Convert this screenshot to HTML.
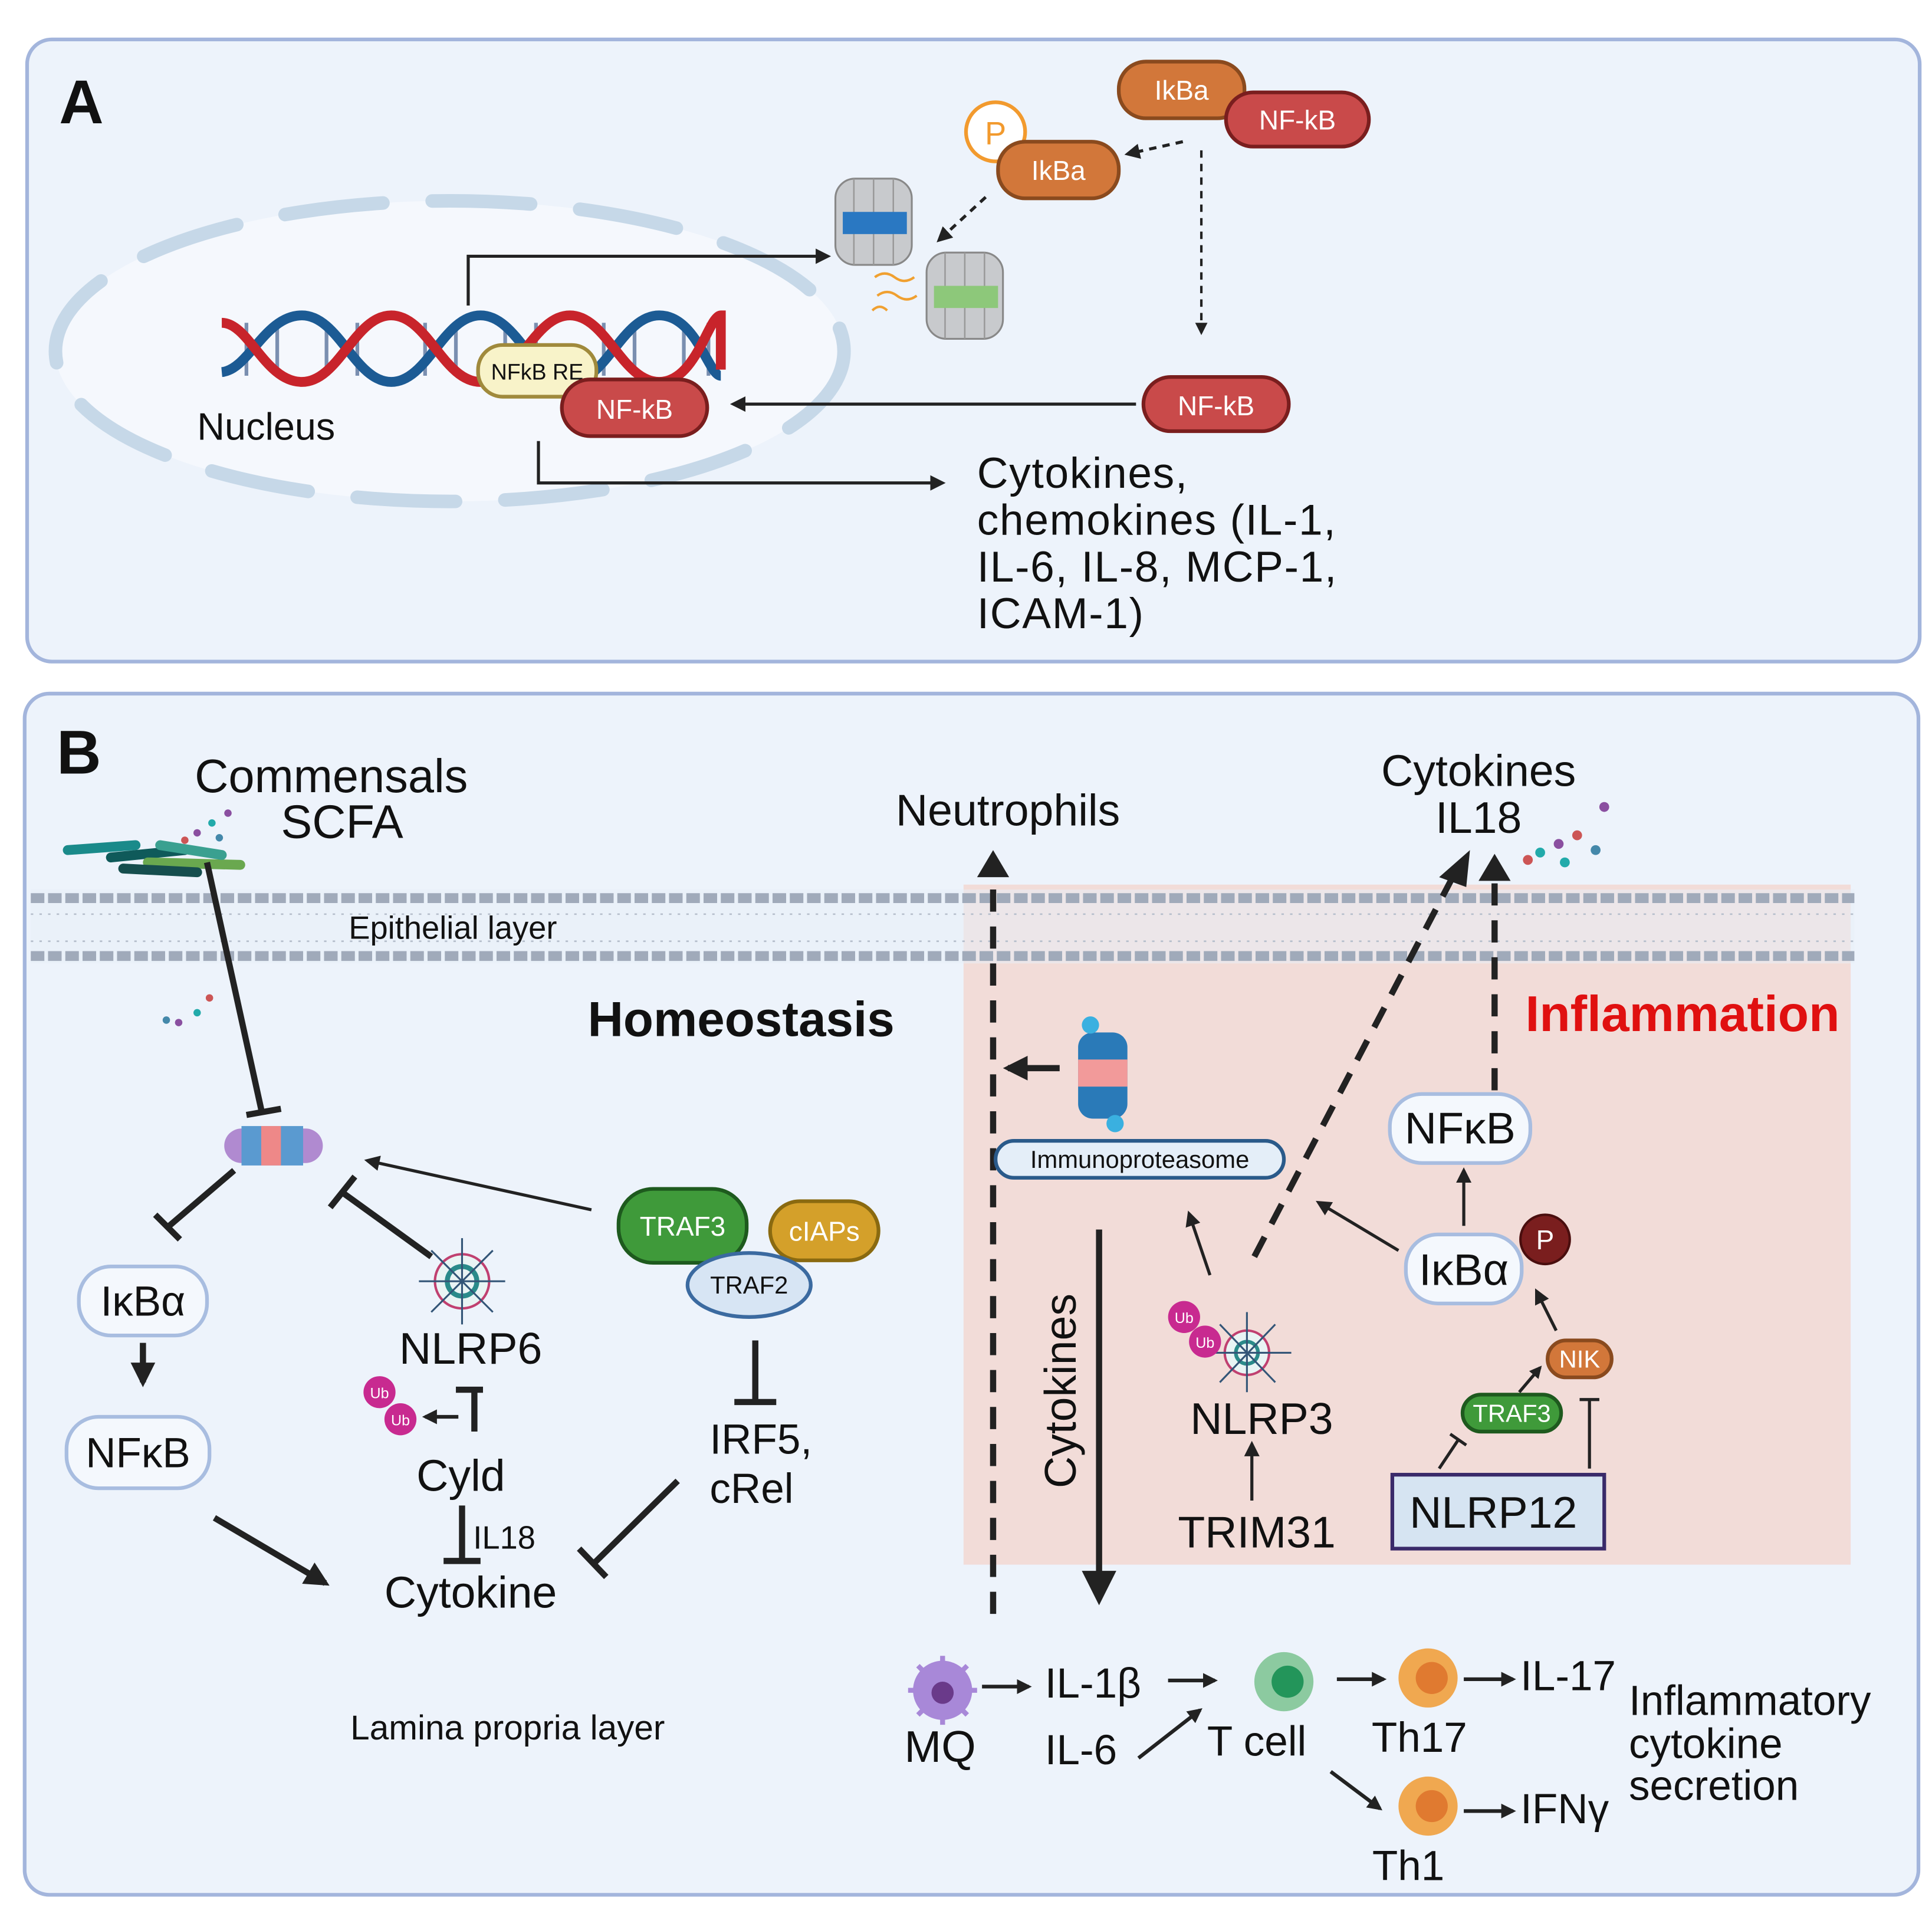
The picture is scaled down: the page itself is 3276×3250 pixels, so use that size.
<!DOCTYPE html>
<html><head><meta charset="utf-8"><style>
html,body{margin:0;padding:0;background:#fff}
svg{display:block}
text{font-family:"Liberation Sans",sans-serif;fill:#111}
</style></head><body>
<svg width="3276" height="3250" viewBox="0 0 1568 1556" preserveAspectRatio="none" xmlns="http://www.w3.org/2000/svg">
<defs>
<marker id="ah" viewBox="0 0 10 10" refX="8" refY="5" markerWidth="5" markerHeight="5" orient="auto"><path d="M0,0L10,5L0,10z" fill="#222"/></marker>
<marker id="ahs" viewBox="0 0 10 10" refX="8" refY="5" markerWidth="4" markerHeight="4" orient="auto"><path d="M0,0L10,5L0,10z" fill="#222"/></marker>
</defs>
<rect width="1568" height="1556" fill="#fff"/>
<!-- Panel A -->
<rect x="22" y="32" width="1536" height="505" rx="20" fill="#edf3fb" stroke="#a3b5dc" stroke-width="3"/>
<text x="48" y="100" font-size="50" font-weight="bold">A</text>
<ellipse cx="365" cy="285" rx="320" ry="122" fill="#f5f8fd" stroke="#c6d8e8" stroke-width="11" stroke-dasharray="80,40" stroke-linecap="round"/>
<!-- DNA -->
<g stroke="#7a8fb0" stroke-width="3">
<line x1="200" y1="262" x2="200" y2="305"/><line x1="225" y1="262" x2="225" y2="305"/><line x1="265" y1="262" x2="265" y2="305"/><line x1="290" y1="262" x2="290" y2="305"/><line x1="345" y1="262" x2="345" y2="305"/><line x1="370" y1="262" x2="370" y2="305"/><line x1="410" y1="262" x2="410" y2="305"/><line x1="435" y1="262" x2="435" y2="305"/><line x1="490" y1="262" x2="490" y2="305"/><line x1="515" y1="262" x2="515" y2="305"/><line x1="555" y1="262" x2="555" y2="305"/><line x1="575" y1="262" x2="575" y2="305"/>
</g>
<g fill="none" stroke-width="8">
<path d="M180,302 C202,300 215,256 245,256 S288,310 317.5,310 S360,256 390,256 S433,310 462.5,310 S505,256 535,256 S575,305 585,305" stroke="#1c5b94"/>
<path d="M180,262 C202,262 215,310 245,310 S288,256 317.5,256 S360,310 390,310 S433,256 462.5,256 S505,310 535,310 S575,256 585,256 V300" stroke="#c8242b"/>
</g>
<rect x="388" y="280" width="96" height="42" rx="20" fill="#f8f3c9" stroke="#a08a3c" stroke-width="3"/>
<text x="436" y="308" font-size="18" text-anchor="middle">NFkB RE</text>
<rect x="456" y="308" width="118" height="46" rx="23" fill="#c94a4a" stroke="#7a1e1e" stroke-width="3"/>
<text x="515" y="340" font-size="22" text-anchor="middle" style="fill:#fff">NF-kB</text>
<text x="160" y="357" font-size="31">Nucleus</text>
<path d="M380,248 V208 H672" fill="none" stroke="#222" stroke-width="2.5" marker-end="url(#ah)"/>
<path d="M437,358 V392 H765" fill="none" stroke="#222" stroke-width="2.5" marker-end="url(#ah)"/>
<path d="M922,328 H595" fill="none" stroke="#222" stroke-width="2.5" marker-end="url(#ah)"/>
<path d="M975,122 V270" fill="none" stroke="#222" stroke-width="2" stroke-dasharray="6,5" marker-end="url(#ah)"/>
<path d="M960,115 L915,125" fill="none" stroke="#222" stroke-width="2.5" stroke-dasharray="6,5" marker-end="url(#ah)"/>
<path d="M800,160 L762,195" fill="none" stroke="#222" stroke-width="2.5" stroke-dasharray="6,5" marker-end="url(#ah)"/>
<rect x="928" y="306" width="118" height="44" rx="22" fill="#c94a4a" stroke="#7a1e1e" stroke-width="3"/>
<text x="987" y="337" font-size="22" text-anchor="middle" style="fill:#fff">NF-kB</text>
<rect x="908" y="50" width="102" height="46" rx="22" fill="#d2773a" stroke="#8a4a1e" stroke-width="3"/>
<text x="959" y="81" font-size="22" text-anchor="middle" style="fill:#fff">IkBa</text>
<rect x="995" y="75" width="116" height="44" rx="22" fill="#c94a4a" stroke="#7a1e1e" stroke-width="3"/>
<text x="1053" y="105" font-size="22" text-anchor="middle" style="fill:#fff">NF-kB</text>
<circle cx="808" cy="107" r="24" fill="#fff" stroke="#f29a2e" stroke-width="3"/>
<text x="808" y="117" font-size="26" text-anchor="middle" style="fill:#f29a2e">P</text>
<rect x="810" y="115" width="98" height="46" rx="22" fill="#d2773a" stroke="#8a4a1e" stroke-width="3"/>
<text x="859" y="146" font-size="22" text-anchor="middle" style="fill:#fff">IkBa</text>
<!-- proteasomes -->
<g stroke="#888" stroke-width="1.5" fill="#c8cacd">
<rect x="678" y="145" width="62" height="70" rx="16"/>
<rect x="752" y="205" width="62" height="70" rx="16"/>
</g>
<g fill="none" stroke="#999" stroke-width="1.2"><line x1="693" y1="145" x2="693" y2="215"/><line x1="709" y1="145" x2="709" y2="215"/><line x1="725" y1="145" x2="725" y2="215"/><line x1="767" y1="205" x2="767" y2="275"/><line x1="783" y1="205" x2="783" y2="275"/><line x1="799" y1="205" x2="799" y2="275"/></g>
<rect x="684" y="172" width="52" height="18" fill="#2a78c2"/>
<rect x="758" y="232" width="52" height="18" fill="#8dc87a"/>
<path d="M710,225 q8,-6 16,0 t16,0 M712,240 q8,-6 16,0 t16,0 M708,252 q6,-6 12,0" stroke="#f0a030" stroke-width="2" fill="none"/>
<text font-size="35" letter-spacing="0.8"><tspan x="793" y="396">Cytokines,</tspan><tspan x="793" y="434">chemokines (IL-1,</tspan><tspan x="793" y="472">IL-6,  IL-8, MCP-1,</tspan><tspan x="793" y="510">ICAM-1)</tspan></text>

<!-- Panel B -->
<rect x="20" y="563" width="1537" height="975" rx="20" fill="#edf3fb" stroke="#a3b5dc" stroke-width="3"/>
<rect x="782" y="718" width="720" height="552" fill="#f2dcd8"/>
<text x="46" y="628" font-size="50" font-weight="bold">B</text>
<!-- membrane -->
<rect x="25" y="722" width="1480" height="60" fill="#e8eef7" opacity="0.55"/>
<g stroke="#b6bfcc" stroke-width="1.3">
<line x1="25" y1="742" x2="1505" y2="742" stroke-dasharray="2,5"/>
<line x1="25" y1="764" x2="1505" y2="764" stroke-dasharray="2,5"/>
</g>
<line x1="25" y1="729" x2="1505" y2="729" stroke="#a0aaba" stroke-width="8" stroke-dasharray="11,3"/>
<line x1="25" y1="776" x2="1505" y2="776" stroke="#a0aaba" stroke-width="8" stroke-dasharray="11,3"/>
<text x="283" y="762" font-size="26">Epithelial layer</text>
<text font-size="38"><tspan x="158" y="643">Commensals</tspan><tspan x="228" y="680">SCFA</tspan></text>
<g stroke-width="8" stroke-linecap="round">
<line x1="55" y1="690" x2="110" y2="686" stroke="#1a8a8a"/><line x1="90" y1="696" x2="150" y2="690" stroke="#0f5a5a"/><line x1="120" y1="700" x2="195" y2="702" stroke="#6aa84f"/><line x1="100" y1="705" x2="160" y2="708" stroke="#164e4e"/><line x1="130" y1="686" x2="180" y2="694" stroke="#3aa090"/>
</g>
<g fill="#8a4fa0"><circle cx="160" cy="676" r="3"/><circle cx="172" cy="668" r="3" fill="#2aa"/><circle cx="185" cy="660" r="3"/><circle cx="150" cy="682" r="3" fill="#c55"/><circle cx="178" cy="680" r="3" fill="#48a"/><circle cx="145" cy="830" r="3"/><circle cx="160" cy="822" r="3" fill="#2aa"/><circle cx="170" cy="810" r="3" fill="#c55"/><circle cx="135" cy="828" r="3" fill="#48a"/><circle cx="1250" cy="692" r="4" fill="#2aa"/><circle cx="1265" cy="685" r="4"/><circle cx="1280" cy="678" r="4" fill="#c55"/><circle cx="1295" cy="690" r="4" fill="#48a"/><circle cx="1302" cy="655" r="4"/><circle cx="1270" cy="700" r="4" fill="#2aa"/><circle cx="1240" cy="698" r="4" fill="#c55"/></g>
<text x="477" y="841" font-size="40" font-weight="bold">Homeostasis</text>
<text x="1238" y="837" font-size="41" font-weight="bold" style="fill:#e01010">Inflammation</text>
<!-- left homeostasis -->
<line x1="168" y1="700" x2="213" y2="905" stroke="#222" stroke-width="5"/>
<line x1="200" y1="905" x2="228" y2="900" stroke="#222" stroke-width="5"/>
<rect x="182" y="916" width="80" height="28" rx="14" fill="#b08ad0"/>
<rect x="196" y="914" width="50" height="32" fill="#5a9ad0"/><rect x="212" y="914" width="16" height="32" fill="#e88"/>
<line x1="190" y1="950" x2="135" y2="997" stroke="#222" stroke-width="5"/><line x1="126" y1="986" x2="146" y2="1006" stroke="#222" stroke-width="5"/>
<line x1="350" y1="1020" x2="278" y2="968" stroke="#222" stroke-width="5"/><line x1="268" y1="980" x2="288" y2="955" stroke="#222" stroke-width="5"/>
<line x1="480" y1="982" x2="298" y2="942" stroke="#222" stroke-width="2.5" marker-end="url(#ah)"/>
<rect x="64" y="1028" width="104" height="56" rx="26" fill="#f4f8fd" stroke="#a8bde0" stroke-width="3"/>
<text x="116" y="1068" font-size="34" text-anchor="middle">IκBα</text>
<line x1="116" y1="1090" x2="116" y2="1122" stroke="#222" stroke-width="5" marker-end="url(#ahs)"/>
<rect x="54" y="1150" width="116" height="58" rx="26" fill="#f4f8fd" stroke="#a8bde0" stroke-width="3"/>
<text x="112" y="1191" font-size="34" text-anchor="middle">NFκB</text>
<line x1="174" y1="1232" x2="264" y2="1285" stroke="#222" stroke-width="5" marker-end="url(#ahs)"/>
<circle cx="375" cy="1040" r="22" fill="#e9f4f4" stroke="#c04070" stroke-width="2"/><circle cx="375" cy="1040" r="12" fill="none" stroke="#2a8a8a" stroke-width="4"/>
<g stroke="#335577" stroke-width="1.5"><line x1="375" y1="1005" x2="375" y2="1075"/><line x1="340" y1="1040" x2="410" y2="1040"/><line x1="350" y1="1015" x2="400" y2="1065"/><line x1="400" y1="1015" x2="350" y2="1065"/></g>
<text x="382" y="1107" font-size="36" text-anchor="middle">NLRP6</text>
<line x1="385" y1="1128" x2="385" y2="1162" stroke="#222" stroke-width="5"/><line x1="370" y1="1128" x2="392" y2="1128" stroke="#222" stroke-width="5"/>
<line x1="372" y1="1150" x2="345" y2="1150" stroke="#222" stroke-width="3" marker-end="url(#ahs)"/>
<circle cx="308" cy="1130" r="13" fill="#c82a90"/><circle cx="325" cy="1152" r="13" fill="#c82a90"/>
<text x="308" y="1135" font-size="12" text-anchor="middle" style="fill:#fff">Ub</text><text x="325" y="1157" font-size="12" text-anchor="middle" style="fill:#fff">Ub</text>
<text x="374" y="1210" font-size="36" text-anchor="middle">Cyld</text>
<line x1="375" y1="1222" x2="375" y2="1267" stroke="#222" stroke-width="5"/><line x1="360" y1="1267" x2="390" y2="1267" stroke="#222" stroke-width="5"/>
<text x="384" y="1257" font-size="26">IL18</text>
<text x="382" y="1305" font-size="36" text-anchor="middle">Cytokine</text>
<rect x="502" y="965" width="104" height="60" rx="28" fill="#3f9a3a" stroke="#1e5a1e" stroke-width="3"/>
<text x="554" y="1003" font-size="22" text-anchor="middle" style="fill:#fff">TRAF3</text>
<rect x="625" y="975" width="88" height="48" rx="24" fill="#d4a02a" stroke="#8a6a10" stroke-width="3"/>
<text x="669" y="1007" font-size="22" text-anchor="middle" style="fill:#fff">cIAPs</text>
<ellipse cx="608" cy="1043" rx="50" ry="26" fill="#d7e5f4" stroke="#3b6aa0" stroke-width="3"/>
<text x="608" y="1050" font-size="20" text-anchor="middle">TRAF2</text>
<line x1="613" y1="1088" x2="613" y2="1138" stroke="#222" stroke-width="5"/><line x1="596" y1="1138" x2="630" y2="1138" stroke="#222" stroke-width="5"/>
<text x="576" y="1180" font-size="34">IRF5,</text><text x="576" y="1220" font-size="34">cRel</text>
<line x1="550" y1="1202" x2="483" y2="1268" stroke="#222" stroke-width="5"/><line x1="470" y1="1257" x2="492" y2="1280" stroke="#222" stroke-width="5"/>
<text x="412" y="1412" font-size="28" text-anchor="middle">Lamina propria layer</text>
<!-- right inflammation -->
<text x="818" y="670" font-size="36" text-anchor="middle">Neutrophils</text>
<text font-size="36" text-anchor="middle"><tspan x="1200" y="638">Cytokines</tspan><tspan x="1200" y="676">IL18</tspan></text>
<line x1="806" y1="1310" x2="806" y2="710" stroke="#222" stroke-width="5" stroke-dasharray="18,12"/>
<path d="M793,712 L806,690 L819,712z" fill="#222"/>
<line x1="1213" y1="885" x2="1213" y2="712" stroke="#222" stroke-width="5" stroke-dasharray="18,12"/>
<path d="M1200,715 L1213,693 L1226,715z" fill="#222"/>
<line x1="1018" y1="1020" x2="1180" y2="710" stroke="#222" stroke-width="5" stroke-dasharray="18,12"/>
<path d="M1168,712 L1193,690 L1190,720z" fill="#222"/>
<line x1="860" y1="867" x2="818" y2="867" stroke="#222" stroke-width="5" marker-end="url(#ahs)"/>
<rect x="875" y="838" width="40" height="70" rx="12" fill="#2a7ab8"/>
<rect x="875" y="860" width="40" height="22" fill="#f29a9a"/>
<circle cx="885" cy="832" r="7" fill="#3ab0e0"/><circle cx="905" cy="912" r="7" fill="#3ab0e0"/>
<rect x="808" y="926" width="234" height="30" rx="15" fill="#e4eef8" stroke="#2a5a8a" stroke-width="3"/>
<text x="925" y="948" font-size="20" text-anchor="middle">Immunoproteasome</text>
<line x1="892" y1="998" x2="892" y2="1280" stroke="#222" stroke-width="5"/>
<path d="M878,1275 L892,1303 L906,1275z" fill="#222"/>
<text transform="translate(873,1208) rotate(-90)" font-size="36">Cytokines</text>
<line x1="982" y1="1035" x2="965" y2="985" stroke="#222" stroke-width="2.5" marker-end="url(#ah)"/>
<line x1="1135" y1="1015" x2="1070" y2="976" stroke="#222" stroke-width="2.5" marker-end="url(#ah)"/>
<circle cx="1012" cy="1098" r="18" fill="#e9f4f4" stroke="#c04070" stroke-width="2"/><circle cx="1012" cy="1098" r="9" fill="none" stroke="#2a8a8a" stroke-width="3"/>
<g stroke="#335577" stroke-width="1.5"><line x1="1012" y1="1065" x2="1012" y2="1130"/><line x1="980" y1="1098" x2="1048" y2="1098"/><line x1="990" y1="1075" x2="1035" y2="1122"/><line x1="1035" y1="1075" x2="990" y2="1122"/></g>
<circle cx="961" cy="1069" r="13" fill="#c82a90"/><circle cx="978" cy="1089" r="13" fill="#c82a90"/>
<text x="961" y="1074" font-size="12" text-anchor="middle" style="fill:#fff">Ub</text><text x="978" y="1094" font-size="12" text-anchor="middle" style="fill:#fff">Ub</text>
<text x="1024" y="1164" font-size="36" text-anchor="middle">NLRP3</text>
<line x1="1016" y1="1218" x2="1016" y2="1172" stroke="#222" stroke-width="2.5" marker-end="url(#ah)"/>
<text x="1020" y="1256" font-size="36" text-anchor="middle">TRIM31</text>
<rect x="1128" y="888" width="114" height="56" rx="26" fill="#f4f8fd" stroke="#a8bde0" stroke-width="3"/>
<text x="1185" y="928" font-size="36" text-anchor="middle">NFκB</text>
<line x1="1188" y1="995" x2="1188" y2="950" stroke="#222" stroke-width="2.5" marker-end="url(#ah)"/>
<rect x="1141" y="1002" width="94" height="56" rx="26" fill="#f4f8fd" stroke="#a8bde0" stroke-width="3"/>
<text x="1188" y="1043" font-size="36" text-anchor="middle">IκBα</text>
<circle cx="1254" cy="1006" r="20" fill="#7a1e1e" stroke="#4a0e0e" stroke-width="2"/>
<text x="1254" y="1014" font-size="22" text-anchor="middle" style="fill:#fff">P</text>
<line x1="1263" y1="1080" x2="1247" y2="1048" stroke="#222" stroke-width="2.5" marker-end="url(#ah)"/>
<rect x="1256" y="1088" width="52" height="30" rx="15" fill="#d2773a" stroke="#8a4a1e" stroke-width="3"/>
<text x="1282" y="1110" font-size="20" text-anchor="middle" style="fill:#fff">NIK</text>
<line x1="1233" y1="1130" x2="1250" y2="1110" stroke="#222" stroke-width="2.5" marker-end="url(#ahs)"/>
<rect x="1187" y="1132" width="80" height="30" rx="15" fill="#3f9a3a" stroke="#1e5a1e" stroke-width="3"/>
<text x="1227" y="1154" font-size="20" text-anchor="middle" style="fill:#fff">TRAF3</text>
<line x1="1168" y1="1192" x2="1184" y2="1168" stroke="#222" stroke-width="2.5"/><line x1="1177" y1="1164" x2="1190" y2="1173" stroke="#222" stroke-width="2.5"/>
<line x1="1290" y1="1192" x2="1290" y2="1136" stroke="#222" stroke-width="2.5"/><line x1="1282" y1="1136" x2="1298" y2="1136" stroke="#222" stroke-width="2.5"/>
<rect x="1130" y="1197" width="172" height="60" fill="#d6e4f2" stroke="#3a2a6a" stroke-width="3"/>
<text x="1212" y="1240" font-size="36" text-anchor="middle">NLRP12</text>
<!-- bottom -->
<circle cx="765" cy="1372" r="24" fill="#a888d8"/>
<g stroke="#a888d8" stroke-width="4"><line x1="737" y1="1372" x2="793" y2="1372"/><line x1="765" y1="1344" x2="765" y2="1400"/><line x1="745" y1="1352" x2="785" y2="1392"/><line x1="785" y1="1352" x2="745" y2="1392"/></g>
<circle cx="765" cy="1374" r="9" fill="#6a3a8a"/>
<text x="763" y="1430" font-size="36" text-anchor="middle">MQ</text>
<line x1="797" y1="1369" x2="835" y2="1369" stroke="#222" stroke-width="3" marker-end="url(#ahs)"/>
<text x="848" y="1378" font-size="34">IL-1β</text>
<text x="848" y="1432" font-size="34">IL-6</text>
<line x1="948" y1="1364" x2="986" y2="1364" stroke="#222" stroke-width="3" marker-end="url(#ahs)"/>
<line x1="924" y1="1427" x2="974" y2="1388" stroke="#222" stroke-width="3" marker-end="url(#ahs)"/>
<circle cx="1042" cy="1365" r="24" fill="#8ccaa0"/><circle cx="1045" cy="1365" r="13" fill="#23955a"/>
<text x="1020" y="1425" font-size="34" text-anchor="middle">T cell</text>
<line x1="1085" y1="1363" x2="1123" y2="1363" stroke="#222" stroke-width="3" marker-end="url(#ahs)"/>
<circle cx="1159" cy="1362" r="24" fill="#f0a850"/><circle cx="1162" cy="1362" r="13" fill="#e07a30"/>
<text x="1152" y="1422" font-size="34" text-anchor="middle">Th17</text>
<line x1="1188" y1="1363" x2="1228" y2="1363" stroke="#222" stroke-width="3" marker-end="url(#ahs)"/>
<text x="1234" y="1372" font-size="34">IL-17</text>
<line x1="1080" y1="1438" x2="1120" y2="1468" stroke="#222" stroke-width="3" marker-end="url(#ahs)"/>
<circle cx="1159" cy="1466" r="24" fill="#f0a850"/><circle cx="1162" cy="1466" r="13" fill="#e07a30"/>
<text x="1143" y="1526" font-size="34" text-anchor="middle">Th1</text>
<line x1="1188" y1="1470" x2="1228" y2="1470" stroke="#222" stroke-width="3" marker-end="url(#ahs)"/>
<text x="1234" y="1480" font-size="34">IFNγ</text>
<text font-size="34"><tspan x="1322" y="1392">Inflammatory</tspan><tspan x="1322" y="1427">cytokine</tspan><tspan x="1322" y="1461">secretion</tspan></text>
</svg>
</body></html>
